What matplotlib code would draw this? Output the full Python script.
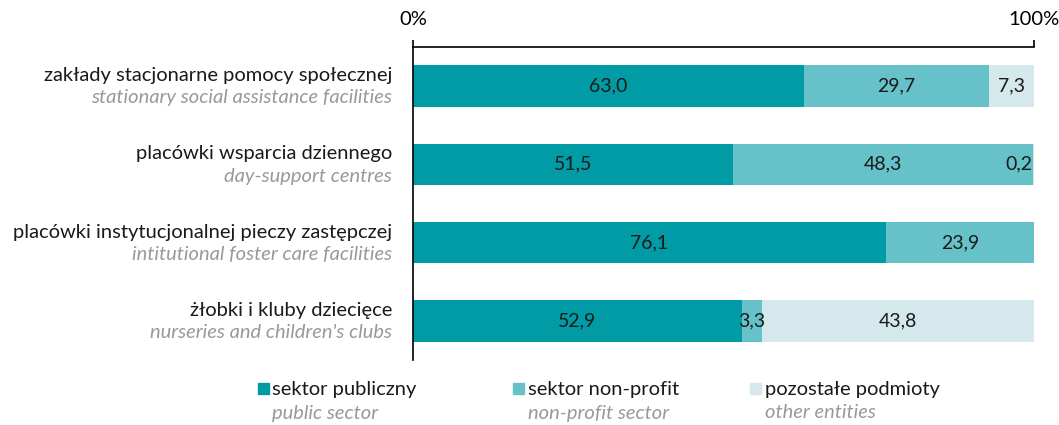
import matplotlib
matplotlib.use("Agg")
import matplotlib.pyplot as plt
from matplotlib.patches import Rectangle

plt.rcParams["font.family"] = ["Lato", "DejaVu Sans"]

categories_pl = ["zakłady stacjonarne pomocy społecznej",
                 "placówki wsparcia dziennego",
                 "placówki instytucjonalnej pieczy zastępczej",
                 "żłobki i kluby dziecięce"]
categories_en = ["stationary social assistance facilities",
                 "day-support centres",
                 "intitutional foster care facilities",
                 "nurseries and children's clubs"]
public = [63.0, 51.5, 76.1, 52.9]
nonprofit = [29.7, 48.3, 23.9, 3.3]
other = [7.3, 0.2, 0.0, 43.8]

series_pl = ["sektor publiczny", "sektor non-profit", "pozostałe podmioty"]
series_en = ["public sector", "non-profit sector", "other entities"]
colors = ["#009BA4", "#66C2C8", "#D5E9EC"]

FS = 14.5

fig = plt.figure(figsize=(10.59, 4.25), dpi=100)
ax = fig.add_axes([413 / 1059, 1 - 360 / 425, 621 / 1059, 313 / 425])

y = list(range(len(categories_pl)))
left = [0.0] * len(y)
for vals, col in zip([public, nonprofit, other], colors):
    ax.barh(y, vals, left=left, height=0.53, color=col, edgecolor="none")
    for i, v in enumerate(vals):
        if v <= 0:
            continue
        if v < 1:
            ax.annotate(f"{v:.1f}".replace(".", ","), xy=(left[i] + v, i),
                        xytext=(-1, 0), textcoords="offset points",
                        ha="right", va="center", fontsize=14, color="#1a1a1a")
        else:
            ax.text(left[i] + v / 2, i, f"{v:.1f}".replace(".", ","),
                    ha="center", va="center", fontsize=14, color="#1a1a1a")
    left = [l + v for l, v in zip(left, vals)]

ax.set_xlim(0, 100)
ax.set_ylim(3.5, -0.5)
ax.spines["right"].set_visible(False)
ax.spines["bottom"].set_visible(False)
ax.spines["top"].set_linewidth(1.2)
ax.spines["left"].set_linewidth(1.2)
ax.xaxis.tick_top()
ax.set_xticks([0, 100])
ax.set_xticklabels(["0%", "100%"])
ax.tick_params(axis="x", direction="out", length=5, width=1.2, pad=9,
               labelsize=FS)
ax.set_yticks([])

for i in y:
    ax.annotate(categories_pl[i], xy=(0, i), xycoords=("axes fraction", "data"),
                xytext=(-15, 7.5), textcoords="offset points",
                ha="right", va="center", fontsize=FS, color="#1a1a1a")
    ax.annotate(categories_en[i], xy=(0, i), xycoords=("axes fraction", "data"),
                xytext=(-15, -8.5), textcoords="offset points",
                ha="right", va="center", fontsize=FS, color="#999999",
                style="italic")

# legend
sq_x = [258, 513, 750]
txt_x = [272, 528, 765]
for k in range(3):
    fig.patches.append(Rectangle((sq_x[k] / 1059, 1 - 394 / 425), 11 / 1059, 11 / 425,
                                 transform=fig.transFigure, color=colors[k]))
    fig.text(txt_x[k] / 1059, 1 - 390 / 425, series_pl[k], ha="left", va="center",
             fontsize=FS, color="#1a1a1a")
    fig.text(txt_x[k] / 1059, 1 - 413 / 425, series_en[k], ha="left", va="center",
             fontsize=FS, color="#999999", style="italic")

fig.savefig("out.png", dpi=100)
